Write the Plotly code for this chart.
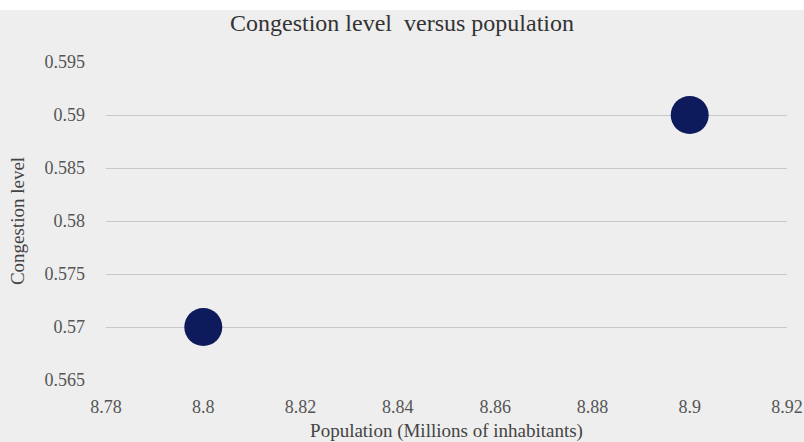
import plotly.graph_objects as go

population = [8.8, 8.9]
congestion = [0.57, 0.59]
x_ticks = [8.78, 8.8, 8.82, 8.84, 8.86, 8.88, 8.9, 8.92]
y_ticks = [0.565, 0.57, 0.575, 0.58, 0.585, 0.59, 0.595]

serif = "Liberation Serif, DejaVu Serif, serif"

fig = go.Figure(go.Scatter(
    x=population, y=congestion, mode="markers",
    marker=dict(size=38, color="#0d1a5c", line=dict(width=0)),
))

fig.update_layout(
    width=804, height=442,
    margin=dict(l=106, r=17, t=62, b=62),
    paper_bgcolor="#eeeeee", plot_bgcolor="#eeeeee",
    showlegend=False,
    title=dict(text="Congestion level  versus population", x=0.5, xanchor="center",
               y=0.95, yanchor="middle",
               font=dict(family=serif, size=24, color="#333333")),
    font=dict(family=serif, color="#555555"),
    shapes=[dict(type="rect", xref="paper", yref="paper", x0=-0.2, x1=1.1,
                 y0=1 + 52/318, y1=1 + 70/318, fillcolor="white", line=dict(width=0), layer="below")],
)
fig.update_xaxes(range=[8.78, 8.92], tickvals=x_ticks, ticktext=[f"{v:g}" for v in x_ticks],
                 showgrid=False, zeroline=False, showline=False, tickfont=dict(size=18),
                 ticklabelstandoff=14, automargin=False,
                 title=dict(text="Population (Millions of inhabitants)", font=dict(size=19, color="#444444"),
                            standoff=12))
fig.update_yaxes(range=[0.565, 0.595], tickvals=y_ticks, ticktext=[f"{v:g}" for v in y_ticks],
                 showgrid=True, gridcolor="#c8c8c8", gridwidth=1, zeroline=False, showline=False,
                 tickfont=dict(size=18), ticklabelstandoff=20, automargin=False,
                 title=dict(text="Congestion level", font=dict(size=19, color="#444444"), standoff=14))

fig.write_html("out.html")
